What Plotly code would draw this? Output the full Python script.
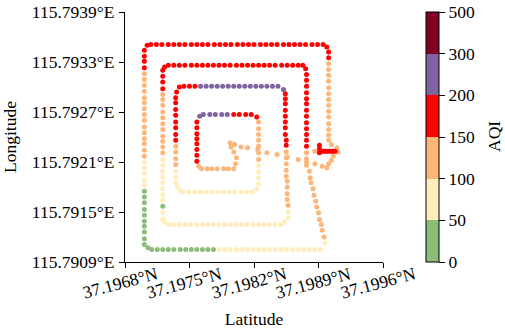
import numpy as np
import plotly.graph_objects as go

# ---- track samples: x = latitude, y = longitude, colour = AQI ----
latitude = [
    # outer ring, right side
    37.19895, 37.19899, 37.19901, 37.19901, 37.19901, 37.19901, 37.19901, 37.19901, 37.19901, 37.19901,
    37.19901, 37.19901, 37.19901, 37.19901, 37.19901, 37.19901, 37.19901, 37.19901,
    # outer ring, top
    37.19889, 37.19883, 37.19876, 37.19870, 37.19864, 37.19858, 37.19852, 37.19845, 37.19839, 37.19833,
    37.19827, 37.19820, 37.19814, 37.19808, 37.19802, 37.19795, 37.19789, 37.19783, 37.19777, 37.19770,
    37.19764, 37.19758, 37.19752, 37.19745, 37.19739, 37.19733, 37.19727, 37.19720, 37.19714, 37.19708,
    37.19704,
    # outer ring, left
    37.19701, 37.19701, 37.19701, 37.19701, 37.19701, 37.19701, 37.19701, 37.19701, 37.19701, 37.19701,
    37.19701, 37.19701, 37.19701, 37.19701, 37.19701, 37.19701, 37.19701, 37.19701, 37.19701, 37.19701,
    37.19701, 37.19701, 37.19701, 37.19701, 37.19701, 37.19701, 37.19701, 37.19701, 37.19701, 37.19701,
    37.19701, 37.19701, 37.19701, 37.19701, 37.19705,
    # outer ring, bottom
    37.19709, 37.19715, 37.19721, 37.19727, 37.19733, 37.19740, 37.19746, 37.19752, 37.19758, 37.19764,
    37.19770, 37.19776, 37.19782, 37.19788, 37.19794, 37.19801, 37.19807, 37.19813, 37.19819, 37.19825,
    37.19831, 37.19837, 37.19843, 37.19849, 37.19855, 37.19862, 37.19868, 37.19874, 37.19880, 37.19886,
    37.19892,
    # diagonal up from bottom-right corner
    37.19897, 37.19896, 37.19894, 37.19893, 37.19891, 37.19890, 37.19888, 37.19887, 37.19885, 37.19884,
    37.19882, 37.19881, 37.19880,
    # ring 2, right
    37.19877, 37.19877, 37.19877, 37.19877, 37.19877, 37.19877, 37.19877, 37.19877, 37.19877, 37.19877,
    37.19877, 37.19877, 37.19877, 37.19877, 37.19877, 37.19877, 37.19876, 37.19873,
    # ring 2, top
    37.19868, 37.19862, 37.19856, 37.19850, 37.19843, 37.19837, 37.19831, 37.19825, 37.19819, 37.19813,
    37.19807, 37.19801, 37.19794, 37.19788, 37.19782, 37.19776, 37.19770, 37.19764, 37.19758, 37.19752,
    37.19745, 37.19739, 37.19733, 37.19727, 37.19723,
    # ring 2, left
    37.19721, 37.19721, 37.19721, 37.19721, 37.19721, 37.19721, 37.19721, 37.19721, 37.19721, 37.19721,
    37.19721, 37.19721, 37.19721, 37.19721, 37.19721, 37.19721, 37.19721, 37.19721, 37.19721, 37.19721,
    37.19721, 37.19721, 37.19721, 37.19721, 37.19721, 37.19721, 37.19723,
    # ring 2, bottom
    37.19727, 37.19733, 37.19739, 37.19745, 37.19751, 37.19758, 37.19764, 37.19770, 37.19776, 37.19782,
    37.19788, 37.19794, 37.19800, 37.19806, 37.19812, 37.19819, 37.19825, 37.19831, 37.19837, 37.19843,
    37.19849, 37.19853,
    # ring 3, right
    37.19857, 37.19857, 37.19857, 37.19856, 37.19856, 37.19856, 37.19856, 37.19855, 37.19855, 37.19855,
    37.19855, 37.19855, 37.19855, 37.19855, 37.19854, 37.19854, 37.19854, 37.19854, 37.19854, 37.19854,
    37.19854, 37.19854, 37.19852,
    # ring 3, top
    37.19846, 37.19840, 37.19834, 37.19828, 37.19822, 37.19816, 37.19810, 37.19804, 37.19798, 37.19792,
    37.19786, 37.19780, 37.19774, 37.19768, 37.19762, 37.19756, 37.19750, 37.19744, 37.19739, 37.19736,
    # ring 3, left
    37.19735, 37.19735, 37.19735, 37.19735, 37.19735, 37.19735, 37.19735, 37.19735, 37.19735, 37.19735,
    37.19735, 37.19735, 37.19735, 37.19735, 37.19735, 37.19737, 37.19740,
    # ring 3, bottom
    37.19743, 37.19749, 37.19756, 37.19762, 37.19768, 37.19774, 37.19781, 37.19787, 37.19793, 37.19799,
    37.19806, 37.19812, 37.19818, 37.19823,
    # ring 4, right
    37.19825, 37.19825, 37.19825, 37.19825, 37.19825, 37.19825, 37.19825, 37.19825, 37.19825, 37.19825,
    37.19825, 37.19823,
    # ring 4, top
    37.19817, 37.19811, 37.19804, 37.19798, 37.19791, 37.19785, 37.19778, 37.19772, 37.19765, 37.19761,
    # ring 4, left
    37.19758, 37.19758, 37.19758, 37.19758, 37.19758, 37.19758, 37.19758, 37.19758, 37.19760,
    # ring 4, bottom
    37.19763, 37.19769, 37.19774, 37.19780, 37.19787, 37.19792, 37.19798,
    # inner hook
    37.19800, 37.19801, 37.19798, 37.19795, 37.19794,
    # transit back to the start
    37.19799, 37.19806, 37.19813, 37.19824, 37.19834, 37.19845, 37.19856, 37.19868, 37.19877, 37.19886,
    37.19894,
    # loop near the start
    37.19899, 37.19901, 37.19904, 37.19906, 37.19911, 37.19910, 37.19904, 37.19886,
    # hovering at the start point
    37.19892, 37.19894, 37.19896, 37.19898, 37.19900, 37.19902, 37.19904, 37.19906, 37.19908, 37.19891,
    37.19891, 37.19891,
]

longitude = [
    # outer ring, right side
    115.79351, 115.79348, 115.79342, 115.79335, 115.79328, 115.79321, 115.79314, 115.79307, 115.79299, 115.79292,
    115.79285, 115.79278, 115.79271, 115.79264, 115.79256, 115.79249, 115.79242, 115.79236,
    # outer ring, top
    115.79351, 115.79351, 115.79351, 115.79351, 115.79351, 115.79351, 115.79351, 115.79351, 115.79351, 115.79351,
    115.79351, 115.79351, 115.79351, 115.79351, 115.79351, 115.79351, 115.79351, 115.79351, 115.79351, 115.79351,
    115.79351, 115.79351, 115.79351, 115.79351, 115.79351, 115.79351, 115.79351, 115.79351, 115.79351, 115.79351,
    115.79350,
    # outer ring, left
    115.79344, 115.79337, 115.79331, 115.79323, 115.79316, 115.79309, 115.79302, 115.79295, 115.79287, 115.79281,
    115.79274, 115.79267, 115.79260, 115.79252, 115.79245, 115.79238, 115.79232, 115.79224, 115.79217, 115.79210,
    115.79203, 115.79196, 115.79188, 115.79182, 115.79175, 115.79168, 115.79161, 115.79153, 115.79146, 115.79139,
    115.79133, 115.79126, 115.79118, 115.79111, 115.79107,
    # outer ring, bottom
    115.79105, 115.79105, 115.79105, 115.79105, 115.79105, 115.79105, 115.79105, 115.79105, 115.79105, 115.79105,
    115.79105, 115.79105, 115.79105, 115.79105, 115.79105, 115.79105, 115.79105, 115.79105, 115.79105, 115.79105,
    115.79105, 115.79105, 115.79105, 115.79105, 115.79105, 115.79105, 115.79105, 115.79105, 115.79105, 115.79105,
    115.79105,
    # diagonal up from bottom-right corner
    115.79113, 115.79120, 115.79128, 115.79135, 115.79141, 115.79149, 115.79156, 115.79163, 115.79170, 115.79178,
    115.79185, 115.79191, 115.79199,
    # ring 2, right
    115.79206, 115.79214, 115.79221, 115.79229, 115.79236, 115.79243, 115.79250, 115.79257, 115.79265, 115.79272,
    115.79280, 115.79286, 115.79293, 115.79301, 115.79308, 115.79315, 115.79322, 115.79326,
    # ring 2, top
    115.79326, 115.79326, 115.79326, 115.79326, 115.79326, 115.79326, 115.79326, 115.79326, 115.79326, 115.79326,
    115.79326, 115.79326, 115.79326, 115.79326, 115.79326, 115.79326, 115.79326, 115.79326, 115.79326, 115.79326,
    115.79326, 115.79326, 115.79326, 115.79326, 115.79324,
    # ring 2, left
    115.79320, 115.79313, 115.79306, 115.79298, 115.79291, 115.79285, 115.79278, 115.79270, 115.79263, 115.79256,
    115.79249, 115.79241, 115.79235, 115.79228, 115.79221, 115.79213, 115.79206, 115.79199, 115.79192, 115.79185,
    115.79178, 115.79171, 115.79164, 115.79157, 115.79149, 115.79142, 115.79138,
    # ring 2, bottom
    115.79135, 115.79135, 115.79135, 115.79135, 115.79135, 115.79135, 115.79135, 115.79135, 115.79135, 115.79135,
    115.79135, 115.79135, 115.79135, 115.79135, 115.79135, 115.79135, 115.79135, 115.79135, 115.79135, 115.79135,
    115.79135, 115.79138,
    # ring 3, right
    115.79143, 115.79150, 115.79158, 115.79165, 115.79172, 115.79180, 115.79187, 115.79193, 115.79200, 115.79208,
    115.79215, 115.79222, 115.79230, 115.79236, 115.79243, 115.79251, 115.79258, 115.79265, 115.79272, 115.79280,
    115.79286, 115.79292, 115.79297,
    # ring 3, top
    115.79301, 115.79301, 115.79301, 115.79301, 115.79301, 115.79301, 115.79301, 115.79301, 115.79301, 115.79301,
    115.79301, 115.79301, 115.79301, 115.79301, 115.79301, 115.79301, 115.79301, 115.79301, 115.79300, 115.79294,
    # ring 3, left
    115.79287, 115.79281, 115.79273, 115.79266, 115.79258, 115.79251, 115.79243, 115.79236, 115.79229, 115.79222,
    115.79214, 115.79207, 115.79199, 115.79192, 115.79185, 115.79180, 115.79176,
    # ring 3, bottom
    115.79174, 115.79174, 115.79174, 115.79174, 115.79174, 115.79174, 115.79174, 115.79174, 115.79174, 115.79174,
    115.79174, 115.79174, 115.79174, 115.79178,
    # ring 4, right
    115.79184, 115.79191, 115.79198, 115.79206, 115.79213, 115.79221, 115.79229, 115.79236, 115.79243, 115.79250,
    115.79258, 115.79264,
    # ring 4, top
    115.79267, 115.79267, 115.79267, 115.79267, 115.79267, 115.79267, 115.79267, 115.79267, 115.79267, 115.79265,
    # ring 4, left
    115.79258, 115.79251, 115.79244, 115.79238, 115.79232, 115.79225, 115.79218, 115.79211, 115.79205,
    # ring 4, bottom
    115.79202, 115.79202, 115.79202, 115.79202, 115.79202, 115.79202, 115.79202,
    # inner hook
    115.79208, 115.79215, 115.79222, 115.79228, 115.79233,
    # transit back to the start
    115.79231, 115.79228, 115.79227, 115.79225, 115.79221, 115.79219, 115.79216, 115.79213, 115.79210, 115.79208,
    115.79205,
    # loop near the start
    115.79203, 115.79208, 115.79212, 115.79217, 115.79222, 115.79227, 115.79231, 115.79223,
    # hovering at the start point
    115.79223, 115.79223, 115.79223, 115.79223, 115.79223, 115.79223, 115.79223, 115.79223, 115.79223, 115.79221,
    115.79226, 115.79230,
]

aqi = [
    # outer ring, right side
    171, 171, 171, 171, 128, 128, 128, 128, 128, 128, 128, 128, 128, 128, 128, 128, 128, 128,
    # outer ring, top
    171, 171, 171, 171, 171, 171, 171, 171, 171, 171, 171, 171, 171, 171, 171, 171, 171, 171, 171, 171,
    171, 171, 171, 171, 171, 171, 171, 171, 171, 171, 171,
    # outer ring, left
    171, 171, 171, 171, 128, 128, 128, 128, 128, 128, 128, 128, 128, 128, 128, 128, 128, 128, 128,
    76, 76, 76, 76, 76, 38, 38, 38, 38, 38, 38, 38, 38, 38, 38, 38,
    # outer ring, bottom
    38, 38, 38, 38, 38, 38, 38, 38, 38, 38, 38, 38,
    76, 76, 76, 76, 76, 76, 76, 76, 76, 76, 76, 76, 76, 76, 76, 76, 76, 76, 76,
    # diagonal up from bottom-right corner
    76, 128, 128, 128, 128, 128, 128, 128, 128, 128, 128, 128, 128,
    # ring 2, right
    128, 128, 128, 171, 171, 171, 171, 171, 171, 171, 171, 171, 171, 171, 171, 171, 171, 171,
    # ring 2, top
    171, 171, 171, 171, 171, 171, 171, 171, 171, 171, 171, 171, 171, 171, 171, 171, 171, 171, 171, 171,
    171, 171, 171, 171, 171,
    # ring 2, left
    171, 171, 171, 171, 128, 128, 128, 128, 128, 128, 128, 128, 128, 128, 128,
    76, 76, 76, 76, 76, 76, 76, 76, 38, 76, 76, 76,
    # ring 2, bottom
    76, 76, 76, 76, 76, 76, 76, 76, 76, 76, 76, 76, 76, 76, 76, 76, 76, 76, 76, 76, 76, 76,
    # ring 3, right
    76, 76, 128, 128, 128, 128, 128, 128, 128, 128, 128, 128,
    171, 171, 171, 171, 171, 171, 171, 171, 171, 171, 226,
    # ring 3, top
    226, 226, 226, 226, 226, 226, 226, 226, 226, 226, 226, 226, 226, 226, 226, 171, 171, 171, 171, 171,
    # ring 3, left
    171, 171, 171, 171, 171, 171, 171, 171, 128, 128, 128, 128, 76, 76, 76, 76, 76,
    # ring 3, bottom
    76, 76, 76, 76, 76, 76, 76, 76, 76, 76, 76, 76, 76, 76,
    # ring 4, right
    76, 76, 76, 76, 128, 128, 128, 128, 128, 128, 128, 171,
    # ring 4, top
    171, 171, 171, 171, 226, 226, 226, 226, 226, 226,
    # ring 4, left
    171, 171, 171, 171, 171, 171, 171, 171, 128,
    # ring 4, bottom
    128, 128, 128, 128, 128, 128, 128,
    # inner hook
    128, 128, 128, 128, 128,
    # transit back to the start
    128, 128, 128, 128, 128, 128, 128, 128, 128, 128, 128,
    # loop near the start
    128, 128, 128, 128, 128, 128, 128, 128,
    # hovering at the start point
    171, 171, 171, 171, 171, 171, 171, 171, 171, 171, 171, 171,
]

x_tick_values = [37.1968, 37.1975, 37.1982, 37.1989, 37.1996]
x_tick_labels = ["37.1968°N", "37.1975°N", "37.1982°N", "37.1989°N", "37.1996°N"]
y_tick_values = [115.7909, 115.7915, 115.7921, 115.7927, 115.7933, 115.7939]
y_tick_labels = ["115.7909°E", "115.7915°E", "115.7921°E", "115.7927°E", "115.7933°E", "115.7939°E"]

aqi_bounds = [0, 50, 100, 150, 200, 300, 500]
aqi_colors = ["#8bbd78", "#ffedbd", "#fdb678", "#fe0000", "#8064a2", "#820024"]

assert len(latitude) == len(longitude) == len(aqi), (len(latitude), len(longitude), len(aqi))

# discrete (boundary) colour scale: AQI -> class position
n_cls = len(aqi_colors)
level = np.interp(aqi, aqi_bounds, np.arange(len(aqi_bounds)))
colorscale = []
for i, c in enumerate(aqi_colors):
    colorscale.append([i / n_cls, c])
    colorscale.append([(i + 1) / n_cls, c])

FONT = "Liberation Serif, Times New Roman, serif"
FS = 17.5
PLOT_W = 258

fig = go.Figure(
    go.Scatter(
        x=latitude,
        y=longitude,
        mode="markers",
        customdata=aqi,
        hovertemplate="Lat %{x}<br>Lon %{y}<br>AQI %{customdata}<extra></extra>",
        marker=dict(
            size=5,
            color=level,
            colorscale=colorscale,
            cmin=0,
            cmax=n_cls,
            line=dict(width=0),
            colorbar=dict(
                tickvals=list(range(len(aqi_bounds))),
                ticktext=[str(b) for b in aqi_bounds],
                thickness=13,
                len=1.0,
                lenmode="fraction",
                y=0.5,
                yanchor="middle",
                x=(426 - 125) / PLOT_W,
                xanchor="left",
                xpad=0,
                ypad=0,
                outlinewidth=1,
                outlinecolor="black",
                ticks="outside",
                ticklen=6,
                tickwidth=1,
                tickcolor="black",
                tickfont=dict(family=FONT, size=FS, color="black"),
            ),
        ),
        showlegend=False,
    )
)

annotations = []
for v, t in zip(x_tick_values, x_tick_labels):
    annotations.append(dict(
        x=v, xref="x", y=0, yref="paper", yshift=-21, xshift=-5,
        text=t, textangle=-15, showarrow=False,
        xanchor="center", yanchor="middle",
        font=dict(family=FONT, size=FS, color="black"),
    ))
# colour-bar title
annotations.append(dict(
    x=(494 - 125) / PLOT_W, xref="paper", y=0.5, yref="paper",
    text="AQI", textangle=-90, showarrow=False,
    xanchor="center", yanchor="middle",
    font=dict(family=FONT, size=FS, color="black"),
))

fig.update_layout(
    width=505,
    height=329,
    margin=dict(l=125, r=122, t=12, b=67, pad=0),
    plot_bgcolor="white",
    paper_bgcolor="white",
    font=dict(family=FONT, size=FS, color="black"),
    annotations=annotations,
    xaxis=dict(
        range=[37.1968, 37.1996],
        showline=True, linecolor="black", linewidth=1, mirror=False,
        ticks="outside", ticklen=5, tickwidth=1, tickcolor="black",
        tickvals=x_tick_values, showticklabels=False,
        showgrid=False, zeroline=False, automargin=False,
        title=dict(text="Latitude", standoff=52, font=dict(family=FONT, size=FS, color="black")),
    ),
    yaxis=dict(
        range=[115.7909, 115.7939],
        showline=True, linecolor="black", linewidth=1, mirror=False,
        ticks="outside", ticklen=5, tickwidth=1, tickcolor="black",
        tickvals=y_tick_values, ticktext=y_tick_labels,
        tickfont=dict(family=FONT, size=FS, color="black"),
        ticklabelstandoff=1,
        showgrid=False, zeroline=False, automargin=False,
        title=dict(text="Longitude", standoff=10, font=dict(family=FONT, size=FS, color="black")),
    ),
)

fig.write_html(
    "out.html",
    config={"displayModeBar": False},
    post_script="document.body.style.margin='0';",
)
